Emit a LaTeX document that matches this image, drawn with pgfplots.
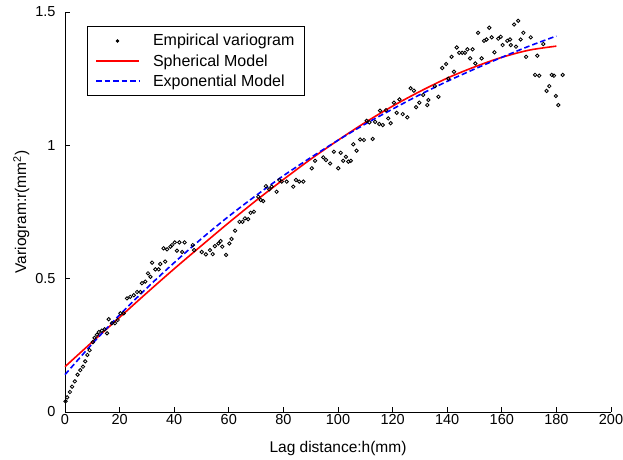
\documentclass[border=0pt]{standalone}
\usepackage{fontspec}
\setmainfont{Liberation Sans}
\usepackage{pgfplots}
\pgfplotsset{compat=1.18}
\begin{document}
\begin{tikzpicture}
\useasboundingbox (-65pt,-47pt) rectangle (558pt,412pt);
\begin{axis}[
  at={(0pt,0pt)}, anchor=south west,
  scale only axis, width=546pt, height=400pt,
  xmin=0, xmax=200, ymin=0, ymax=1.5,
  axis x line*=bottom, axis y line*=left,
  axis line style={line width=0.9pt, black},
  tick align=inside, major tick length=5pt,
  tick style={line width=0.8pt, black},
  xtick={0,20,...,200}, ytick={0,0.5,1,1.5},
  yticklabels={0,0.5,1,1.5},
  /pgf/number format/assume math mode=true,
  tick label style={font=\fontsize{14.5}{17}\selectfont},
  xticklabel style={yshift=1pt},
  yticklabel style={xshift=-6pt},
  label style={font=\fontsize{15.5}{18}\selectfont},
  xlabel={Lag distance:h(mm)},
  ylabel={Variogram:r(mm\textsuperscript{2})},
  xlabel style={at={(axis description cs:0.5,-0.092)}, anchor=center},
  ylabel style={at={(axis description cs:-0.08,0.5)}, anchor=center, rotate=0},
  clip=false,
  legend style={at={(0.04,0.965)}, anchor=north west, draw=black, line width=0.8pt,
    fill=white, font=\fontsize{16}{18}\selectfont, inner xsep=8pt, inner ysep=6pt,
    row sep=3pt, cells={anchor=west}},
]
\addlegendimage{only marks, mark=*, mark size=1.1pt, black,
  legend image code/.code={\path[draw=none] (0pt,0pt) -- (55pt,0pt); \fill[black] (21.5pt,0pt) circle (1.3pt);}}
\addlegendentry{Empirical variogram\hspace{7pt}}
\addlegendimage{color=red, line width=1.6pt,
  legend image code/.code={\path[draw=none] (0pt,0pt) -- (55pt,0pt); \fill[fill=red, draw=none] (0pt,-0.8pt) rectangle (43pt,0.8pt);}}
\addlegendentry{Spherical Model}
\addlegendimage{color=blue, line width=1.6pt,
  legend image code/.code={\path[draw=none] (0pt,0pt) -- (55pt,0pt); \draw[draw=blue, line width=1.6pt, dash pattern=on 5.5pt off 3pt] (0pt,0pt) -- (43pt,0pt);}}
\addlegendentry{Exponential Model}
\addplot[forget plot, only marks, mark=o, mark size=1.7pt, mark options={line width=0.85pt, black}]
coordinates {
(0.2,0.040)(0.8,0.055)(1.8,0.075)(2.6,0.095)(3.6,0.115)(4.6,0.140)(5.6,0.157)(6.6,0.170)
(7.4,0.190)(8.2,0.214)(9.0,0.232)(10.2,0.262)(10.8,0.278)(11.7,0.290)(12.4,0.300)(13.5,0.305)
(14.5,0.310)(15.4,0.295)(16.0,0.348)(17.2,0.333)(18.3,0.333)(19.3,0.345)(20.3,0.370)(21.5,0.370)
(22.7,0.426)(23.9,0.432)(25.2,0.438)(26.4,0.450)(27.6,0.450)(28.2,0.483)(29.4,0.489)(30.4,0.520)
(31.3,0.507)(31.9,0.560)(33.1,0.535)(34.3,0.535)(34.9,0.555)(36.1,0.614)(36.7,0.564)(37.4,0.610)
(38.6,0.620)(39.2,0.626)(40.2,0.636)(41.0,0.605)(41.9,0.636)(42.9,0.600)(43.8,0.636)(46.8,0.626)
(47.3,0.607)(50.1,0.600)(51.6,0.591)(53.1,0.607)(54.1,0.592)(54.9,0.622)(56.2,0.632)(57.0,0.641)
(57.6,0.620)(59.0,0.589)(60.2,0.632)(61.0,0.649)(62.3,0.680)(63.9,0.713)(65.0,0.713)(65.9,0.726)
(67.1,0.723)(68.0,0.747)(69.2,0.751)(70.8,0.807)(71.7,0.795)(72.6,0.791)(73.6,0.847)(74.8,0.835)
(75.7,0.845)(77.5,0.826)(78.5,0.870)(79.4,0.864)(81.2,0.864)(83.6,0.845)(84.6,0.870)(85.8,0.864)
(87.3,0.864)(90.4,0.914)(91.6,0.942)(94.6,0.955)(95.6,0.945)(97.1,0.932)(98.5,0.976)(100.1,0.914)
(101.0,0.972)(101.9,0.942)(102.9,0.957)(103.8,0.939)(104.7,0.942)(105.6,1.004)(106.8,0.980)(108.1,1.022)
(109.5,1.020)(110.5,1.092)(111.5,1.086)(112.7,1.024)(113.6,1.088)(115.1,1.080)(115.4,1.130)(116.4,1.076)
(117.6,1.132)(118.4,1.101)(119.3,1.083)(120.5,1.160)(121.5,1.122)(122.5,1.172)(123.7,1.117)(125.4,1.105)
(126.6,1.214)(127.8,1.205)(128.6,1.143)(129.8,1.160)(131.2,1.189)(132.7,1.151)(133.1,1.170)(135.5,1.222)
(136.8,1.182)(138.2,1.290)(139.6,1.305)(140.4,1.250)(141.6,1.332)(142.5,1.276)(143.5,1.367)(144.4,1.347)
(145.5,1.347)(146.5,1.347)(147.4,1.360)(148.4,1.326)(149.3,1.360)(150.3,1.307)(151.3,1.422)(152.6,1.326)
(153.5,1.392)(154.4,1.397)(155.4,1.441)(156.3,1.405)(157.3,1.349)(158.7,1.400)(159.6,1.407)(160.3,1.376)
(162.0,1.392)(163.0,1.397)(163.3,1.376)(164.5,1.453)(165.2,1.370)(166.0,1.467)(166.9,1.397)(167.9,1.422)
(168.9,1.332)(170.6,1.405)(172.2,1.264)(173.0,1.336)(173.7,1.261)(175.2,1.380)(176.4,1.204)(177.4,1.222)
(178.3,1.264)(179.1,1.261)(179.8,1.185)(180.7,1.151)(182.3,1.264)
};
\addplot[forget plot, red, line width=1.6pt, smooth]
coordinates {
(0,0.170)(10,0.263)(20,0.355)(30,0.447)(40,0.537)(50,0.624)(60,0.710)(70,0.793)(80,0.872)
(90,0.948)(100,1.019)(110,1.086)(120,1.147)(130,1.202)(140,1.252)(150,1.294)(160,1.330)(170,1.357)(180,1.372)
};
\addplot[forget plot, blue, line width=1.6pt, dash pattern=on 5.5pt off 3pt, smooth]
coordinates {
(0,0.140)(10,0.256)(20,0.364)(30,0.465)(40,0.560)(50,0.650)(60,0.734)(70,0.812)(80,0.886)
(90,0.954)(100,1.019)(110,1.080)(120,1.136)(130,1.190)(140,1.240)(150,1.286)(160,1.330)(170,1.372)(180,1.410)
};
\end{axis}
\end{tikzpicture}
\end{document}
